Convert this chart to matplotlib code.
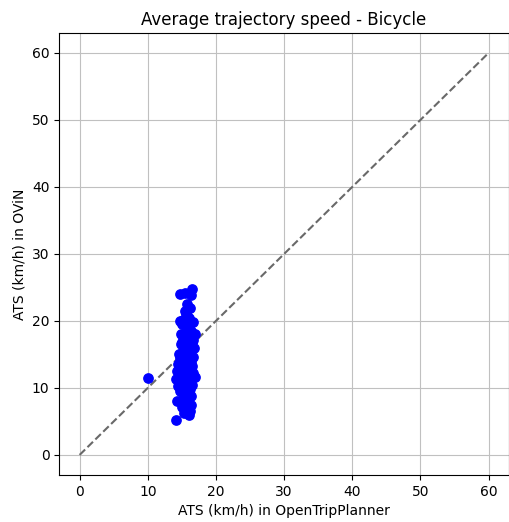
import matplotlib.pyplot as plt

# average trajectory speed per trip (km/h): planner estimate vs. survey value
ats_otp = [16.5, 14.8, 15.5, 16.4, 15.8, 16.2, 15.6, 16.0, 14.8, 15.2,
           16.6, 15.0, 15.8, 16.4, 14.9, 15.5, 17.0, 16.1, 15.3, 16.5,
           14.9, 15.8, 16.8, 15.2, 16.0, 14.6, 15.6, 16.7, 15.0, 16.2,
           14.5, 15.4, 16.5, 14.8, 15.9, 14.3, 15.1, 16.3, 14.6, 15.7,
           14.2, 16.0, 15.0, 16.5, 14.5, 15.5, 16.2, 14.8, 15.8, 16.4,
           15.2, 14.3, 15.9, 16.3, 15.0, 15.6, 16.2, 15.3, 16.1, 14.2,
           10.0, 15.4, 16.0, 15.1, 16.6, 15.7, 14.7, 16.3, 15.5, 16.9,
           15.9, 15.2, 16.1, 15.4, 16.7, 14.9, 15.6, 16.2, 15.0, 15.8]
ats_ovin = [24.8, 24.0, 24.1, 23.8, 22.5, 22.0, 21.0, 20.5, 20.0, 20.2,
            19.8, 19.5, 19.0, 18.5, 18.0, 18.2, 18.0, 17.5, 17.0, 16.8,
            16.5, 16.2, 16.0, 15.5, 15.2, 15.0, 14.8, 14.6, 14.2, 14.0,
            13.5, 13.6, 13.2, 13.0, 12.8, 12.5, 12.2, 12.0, 11.8, 11.5,
            11.3, 11.0, 10.8, 10.5, 10.3, 10.0, 9.8, 9.5, 9.2, 8.8,
            8.5, 8.0, 8.0, 7.5, 7.2, 6.8, 6.5, 6.2, 6.0, 5.2,
            11.5, 21.5, 19.2, 17.8, 17.2, 16.0, 14.5, 13.8, 12.6, 11.6,
            10.6, 9.9, 9.0, 11.2, 12.3, 12.0, 13.2, 15.8, 16.9, 20.8]
diag = [0, 60]

fig = plt.figure(figsize=(5.1, 5.22), dpi=100)
ax = fig.add_axes([0.116, 0.09, 0.882, 0.847])

ax.scatter(ats_otp, ats_ovin, color='blue', s=45, zorder=3)
ax.plot(diag, diag, '--', color='dimgray', linewidth=1.5, zorder=2)

ax.set_title('Average trajectory speed - Bicycle')
ax.set_xlabel('ATS (km/h) in OpenTripPlanner')
ax.set_ylabel('ATS (km/h) in OViN')
ax.set_xlim(-3, 63)
ax.set_ylim(-3, 63)
ax.grid(True, color='#c0c0c0', linewidth=0.8)
ax.set_axisbelow(True)

fig.savefig('out.png', dpi=100)
